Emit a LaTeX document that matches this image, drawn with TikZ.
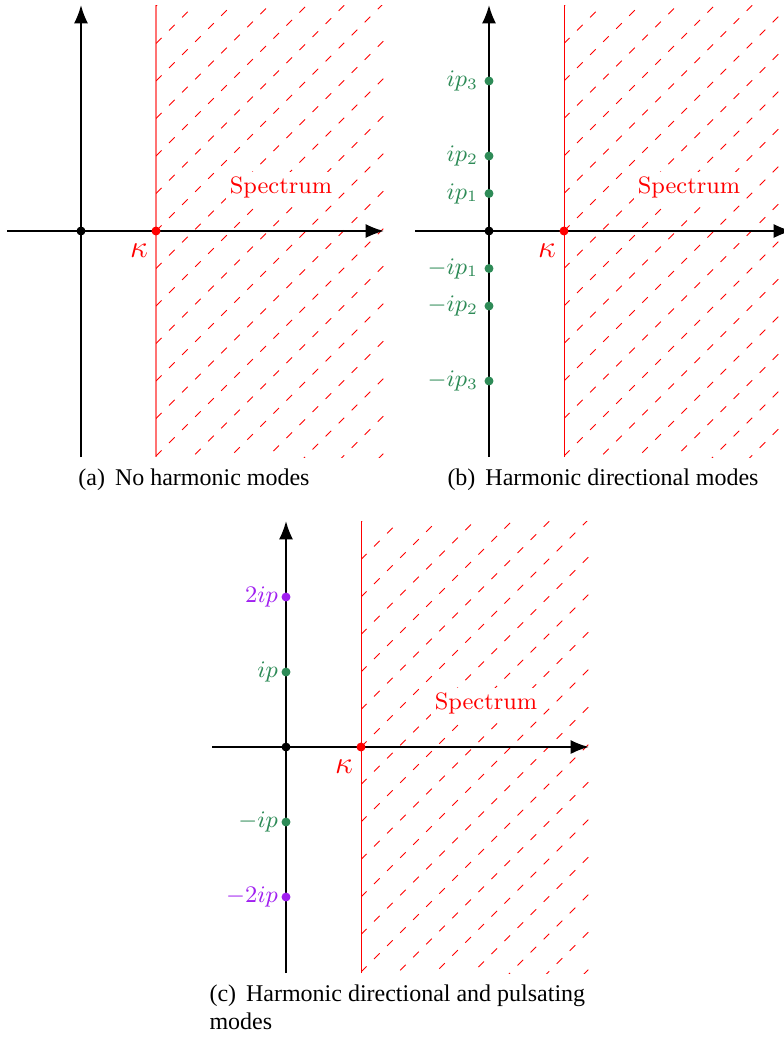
\documentclass[tikz,border=0pt]{standalone}
\usepackage{fontspec}
\newfontfamily\capfont{Liberation Serif}
\usetikzlibrary{arrows.meta}
\definecolor{modegreen}{RGB}{46,139,87}
\definecolor{modepurple}{RGB}{160,32,240}
\newcommand\specpanel[4]{%
\begin{scope}[shift={(#2,#3)}]
  \coordinate (#1-l) at (-74,0);
  \coordinate (#1-r) at (303,0);
  \coordinate (#1-b) at (0,226);
  \coordinate (#1-t) at (0,-226);
  \coordinate (#1-kb) at (75,226);
  \coordinate (#1-kt) at (75,-226);
  \begin{scope}
    \clip (75,-226) rectangle (303,226);
    \foreach \k in {-12,...,13} \draw[hatch] (75,37.5*\k) -- ++(330,-330);
  \end{scope}
  \draw[#4] (#1-kb) -- (#1-kt);
  \draw[axis] (#1-l) -- (#1-r);
  \draw[axis] (#1-b) -- (#1-t);
  \node[dot] (#1-o) at (0,0) {};
  \node[dot,fill=red] (#1-k) at (75,0) {};
  \node[kap] (#1-kl) at (58,20) {$\kappa$};
  \node[spec] (#1-s) at (200,-44) {Spectrum};
\end{scope}}
\begin{document}
\begin{tikzpicture}[x=0.0133333cm,y=-0.0133333cm,
  axis/.style={line width=0.8pt,-{Latex[length=7pt,width=5.4pt]}},
  hatch/.style={red,line width=0.35pt,dash pattern=on 3pt off 4pt},
  redlinea/.style={red,opacity=0.55,line width=0.8pt},
  redline/.style={red,line width=0.3pt},
  dot/.style={circle,fill=black,inner sep=0pt,minimum size=3.4pt},
  gdot/.style={dot,fill=modegreen},
  pdot/.style={dot,fill=modepurple},
  glab/.style={text=modegreen,anchor=east,inner sep=1pt,font=\fontsize{9}{11}\selectfont},
  plab/.style={text=modepurple,anchor=east,inner sep=1pt,font=\fontsize{9}{11}\selectfont},
  kap/.style={text=red,inner sep=0pt,font=\fontsize{12.5}{14}\selectfont},
  spec/.style={text=red,fill=white,inner sep=1.5pt,font=\fontsize{9}{11}\selectfont},
  captext/.style={inner sep=0pt,font=\capfont\fontsize{9.1}{11}\selectfont}]
\useasboundingbox (0,0) rectangle (784,1037);
% panel (a)
\specpanel{a}{81}{231}{redlinea}
\node[captext,anchor=base] (acap) at (194,485) {(a)\, No harmonic modes};
% panel (b)
\specpanel{b}{489}{231}{redline}
\begin{scope}[shift={(489,231)}]
  \node[gdot] (b-p3) at (0,-150) {};
  \node[gdot] (b-p2) at (0,-75) {};
  \node[gdot] (b-p1) at (0,-37.5) {};
  \node[gdot] (b-m1) at (0,37.5) {};
  \node[gdot] (b-m2) at (0,75) {};
  \node[gdot] (b-m3) at (0,150) {};
\end{scope}
\node[glab] (b-p3l) at ([xshift=-1pt]b-p3.west) {$ip_3$};
\node[glab] (b-p2l) at ([xshift=-1pt]b-p2.west) {$ip_2$};
\node[glab] (b-p1l) at ([xshift=-1pt]b-p1.west) {$ip_1$};
\node[glab] (b-m1l) at ([xshift=-1pt]b-m1.west) {$-ip_1$};
\node[glab] (b-m2l) at ([xshift=-1pt]b-m2.west) {$-ip_2$};
\node[glab] (b-m3l) at ([xshift=-1pt]b-m3.west) {$-ip_3$};
\node[captext,anchor=base] (bcap) at (603,485) {(b)\, Harmonic directional modes};
% panel (c)
\specpanel{c}{286}{747}{redline}
\begin{scope}[shift={(286,747)}]
  \node[pdot] (c-p2) at (0,-150) {};
  \node[gdot] (c-p1) at (0,-75) {};
  \node[gdot] (c-m1) at (0,75) {};
  \node[pdot] (c-m2) at (0,150) {};
\end{scope}
\node[plab] (c-p2l) at (c-p2.west) {$2ip$};
\node[glab] (c-p1l) at (c-p1.west) {$ip$};
\node[glab] (c-m1l) at (c-m1.west) {$-ip$};
\node[plab] (c-m2l) at (c-m2.west) {$-2ip$};
\node[captext,anchor=base west] (ccap1) at (209,1001) {(c)\, Harmonic directional and pulsating};
\node[captext,anchor=base west] (ccap2) at (209,1029) {modes};
\end{tikzpicture}
\end{document}
